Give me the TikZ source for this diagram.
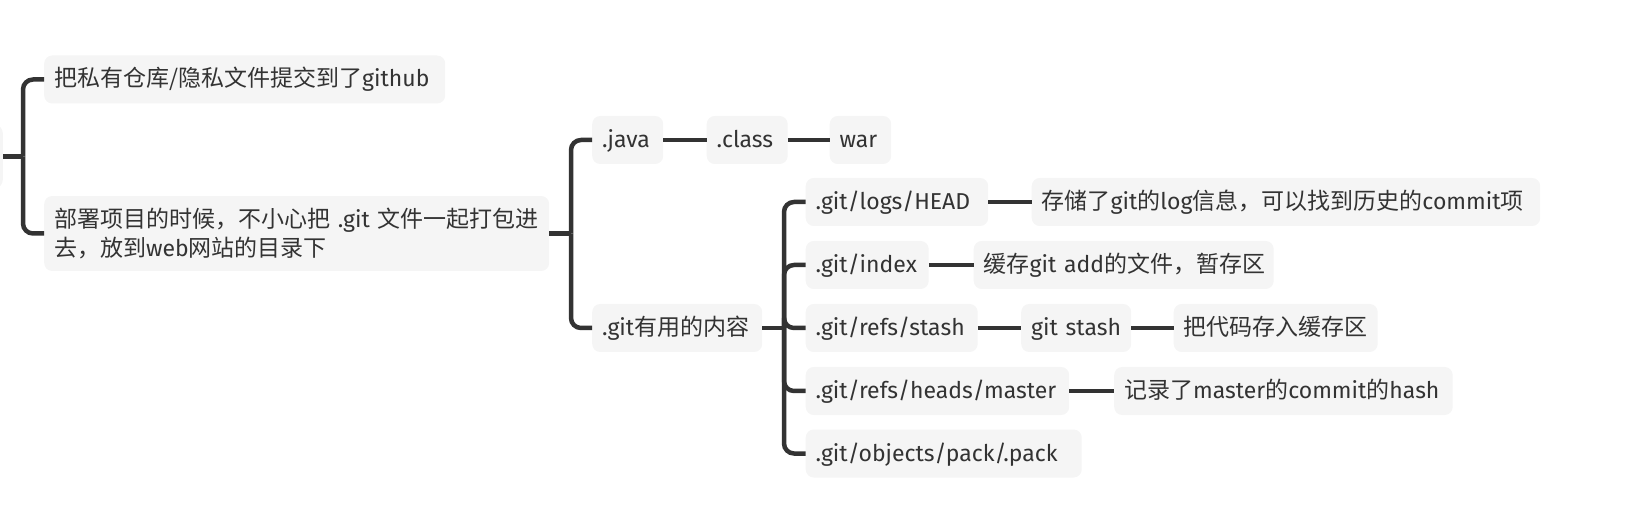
\documentclass[tikz,border=0pt]{standalone}
\usepackage{fontspec}
\setmainfont{Noto Sans CJK SC}
\newfontfamily\lt{Fira Sans}
\definecolor{linegray}{HTML}{333333}
\definecolor{boxgray}{HTML}{F5F5F5}
\definecolor{textgray}{HTML}{333333}
\tikzset{
  base/.style={fill=boxgray, rounded corners=8pt, text=textgray, inner xsep=10pt,
    anchor=west, align=left, font=\fontsize{23}{29}\selectfont},
  topic/.style={base, minimum height=48pt, inner ysep=0pt, text height=19pt, text depth=4pt},
  latin/.style={topic, font=\fontsize{23}{29}\selectfont\lt},
  branch/.style={draw=linegray, line width=4.5pt},
  elbow/.style={branch, rounded corners=10pt},
}
\begin{document}
\begin{tikzpicture}[x=1pt, y=-1pt]
  \useasboundingbox (0,0) rectangle (1634,529);
  % root topic, cut off by the left edge
  \node[topic, anchor=east, minimum width=60pt, minimum height=63pt] (root) at (3,156.5) {};
  \node[topic, text width=381pt] (leak) at (44,79.5) {把私有仓库/隐私文件提交到了{\lt github}};
  \node[base, inner ysep=12pt, text width=485pt] (deploy) at (44,233.5)
    {部署项目的时候，不小心把~{\lt .git}~文件一起打包进\\去，放到{\lt web}网站的目录下};
  \node[latin, text width=51pt] (java) at (592,140) {.java};
  \node[latin, text width=61pt] (class) at (706.5,140) {.class};
  \node[latin, text width=41.5pt] (war) at (829.5,140) {war};
  \node[topic, text width=150pt] (gituse) at (592,328) {{\lt .git}有用的内容};
  \node[latin, text width=162.5pt] (head) at (805.5,202) {.git/logs/HEAD};
  \node[topic, text width=488.5pt] (headinfo) at (1031.5,202) {存储了{\lt git}的{\lt log}信息，可以找到历史的{\lt commit}项};
  \node[latin, text width=103pt] (index) at (805.5,265) {.git/index};
  \node[topic, text width=280pt] (indexinfo) at (973.5,265) {缓存{\lt git~add}的文件，暂存区};
  \node[latin, text width=152pt] (stash) at (805.5,328) {.git/refs/stash};
  \node[latin, text width=90pt] (gitstash) at (1021,328) {git~stash};
  \node[topic, text width=184pt] (stashinfo) at (1173.5,328) {把代码存入缓存区};
  \node[latin, text width=243.5pt] (master) at (805.5,391) {.git/refs/heads/master};
  \node[topic, text width=318.5pt] (masterinfo) at (1114,391) {记录了{\lt master}的{\lt commit}的{\lt hash}};
  \node[latin, text width=256pt] (pack) at (805.5,453.5) {.git/objects/pack/.pack};

  \coordinate (j1) at (23,156.5);
  \coordinate (j2) at (571,233.5);
  \coordinate (j3) at (784,328);
  \draw[branch] (root.east) -- (j1);
  \draw[elbow] (j1) |- (leak.west);
  \draw[elbow] (j1) |- (deploy.west);
  \draw[branch] (deploy.east) -- (j2);
  \draw[elbow] (j2) |- (java.west);
  \draw[elbow] (j2) |- (gituse.west);
  \draw[branch] (java) -- (class);
  \draw[branch] (class) -- (war);
  \draw[branch] (gituse.east) -- (j3);
  \foreach \n in {head, index, stash, master, pack}
    \draw[elbow] (j3) |- (\n.west);
  \draw[branch] (head) -- (headinfo);
  \draw[branch] (index) -- (indexinfo);
  \draw[branch] (stash) -- (gitstash);
  \draw[branch] (gitstash) -- (stashinfo);
  \draw[branch] (master) -- (masterinfo);
\end{tikzpicture}
\end{document}
